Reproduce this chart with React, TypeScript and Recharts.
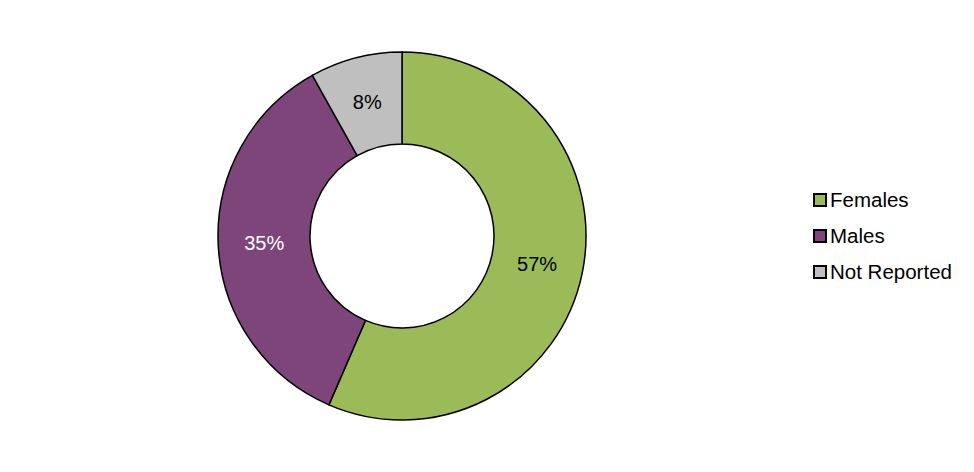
import { PieChart, Pie, Cell, Legend } from 'recharts';

const categories = ['Females', 'Males', 'Not Reported'];
const shares = [56.5, 35.4, 8.1];
const COLORS = ['#9BBB59', '#7D4579', '#BFBFBF'];
const LABEL_COLORS = ['#000000', '#FFFFFF', '#000000'];

const data = categories.map((name, i) => ({ name, value: shares[i] }));

const RADIAN = Math.PI / 180;

const renderLabel = (props: any) => {
  const { cx, cy, midAngle, innerRadius, outerRadius, index, value } = props;
  const r = (innerRadius + outerRadius) / 2;
  const x = cx + r * Math.cos(-midAngle * RADIAN);
  const y = cy + r * Math.sin(-midAngle * RADIAN);
  return (
    <text
      x={x}
      y={y}
      fill={LABEL_COLORS[index]}
      textAnchor="middle"
      dominantBaseline="central"
      fontSize={20}
      fontFamily="'Liberation Sans', Arial, sans-serif"
    >
      {`${Math.round(value)}%`}
    </text>
  );
};

const LegendContent = () => (
  <div style={{ fontFamily: "'Liberation Sans', Arial, sans-serif", fontSize: 20.5, color: '#000' }}>
    {categories.map((name, i) => (
      <div key={name} style={{ display: 'flex', alignItems: 'center', height: 36 }}>
        <span
          style={{
            display: 'inline-block',
            width: 10,
            height: 10,
            background: COLORS[i],
            border: '2px solid #000',
            marginRight: 3,
          }}
        />
        <span>{name}</span>
      </div>
    ))}
  </div>
);

export default function App() {
  return (
    <div style={{ width: 958, height: 456, background: '#fff' }}>
      <PieChart width={958} height={456}>
        <Pie
          data={data}
          dataKey="value"
          nameKey="name"
          cx={389}
          cy={223}
          innerRadius={92}
          outerRadius={184}
          startAngle={90}
          endAngle={-270}
          stroke="#000"
          strokeWidth={1.5}
          label={renderLabel}
          labelLine={false}
          isAnimationActive={false}
        >
          {data.map((entry, i) => (
            <Cell key={entry.name} fill={COLORS[i]} />
          ))}
        </Pie>
        <Legend
          content={<LegendContent />}
          wrapperStyle={{ position: 'absolute', left: 805, top: 174, width: 160 }}
        />
      </PieChart>
    </div>
  );
}
